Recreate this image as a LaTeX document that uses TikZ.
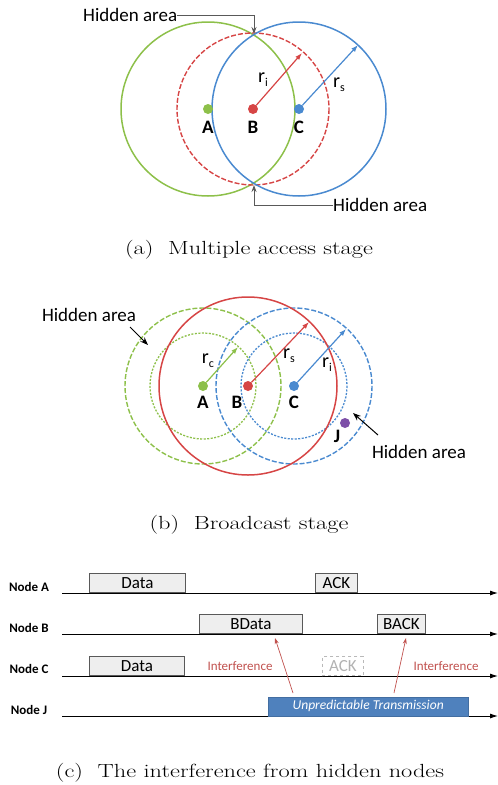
\documentclass[tikz,border=0pt]{standalone}
\usepackage{fontspec}
\usepackage{graphicx}
\newfontfamily\calib{Carlito}
\usetikzlibrary{arrows.meta, positioning}
\definecolor{netGreen}{HTML}{8DC04A}
\definecolor{netRed}{HTML}{D64545}
\definecolor{netBlue}{HTML}{4A8AD0}
\definecolor{netPurple}{HTML}{7D4FA8}
\definecolor{boxGray}{HTML}{EEEEEE}
\definecolor{edgeGray}{HTML}{595959}
\definecolor{jamBlue}{HTML}{4F81BD}
\definecolor{warnRed}{HTML}{C0504D}
\newcommand{\rlabel}[1]{r\raisebox{-0.4ex}{\fontsize{12}{12}\selectfont #1}}
\newcommand{\capt}[1]{\scalebox{1.28}[1]{#1}}

\begin{document}
\begin{tikzpicture}[x=1pt, y=-1pt,
  dot/.style={circle, inner sep=0pt, minimum size=10pt, fill=#1},
  tag/.style={font=\calib\bfseries\fontsize{19}{19}\selectfont, inner sep=0pt},
  rlab/.style={font=\calib\fontsize{20}{20}\selectfont, inner sep=0pt},
  note/.style={font=\calib\fontsize{19}{19}\selectfont, inner sep=0pt},
  ring/.style={line width=1.5pt, draw=#1},
  dashring/.style={line width=1.4pt, draw=#1, dash pattern=on 5pt off 2pt},
  dotring/.style={line width=1.3pt, draw=#1, dash pattern=on 2pt off 1.5pt},
  spoke/.style={line width=1.2pt, draw=#1, -{Latex[length=7pt,width=5pt]}},
  pointer/.style={line width=1pt, draw=edgeGray, -{Stealth[length=7pt,width=5pt]}},
  blackptr/.style={line width=1pt, -{Stealth[length=8pt,width=6pt]}},
  lane/.style={font=\calib\bfseries\fontsize{13}{13}\selectfont, inner sep=0pt},
  axis/.style={line width=0.9pt, -{Latex[length=8pt,width=5pt]}},
  slot/.style={draw=edgeGray, fill=boxGray, line width=0.9pt, minimum height=19pt,
    inner sep=0pt, anchor=south west, font=\calib\fontsize{17}{17}\selectfont},
  ghost/.style={draw=gray!55, dashed, line width=0.9pt, text=gray!60, minimum height=19pt,
    inner sep=0pt, anchor=south west, font=\calib\fontsize{17}{17}\selectfont},
  jam/.style={fill=jamBlue, draw=jamBlue!85!black, text=white, minimum height=19pt,
    inner sep=0pt, anchor=south west, font=\calib\itshape\fontsize{13.5}{13.5}\selectfont},
  warn/.style={text=warnRed, inner sep=0pt, font=\calib\fontsize{13}{13}\selectfont},
  hit/.style={draw=warnRed, line width=0.7pt, -{Stealth[length=6pt,width=4pt]}},
  subcap/.style={font=\fontsize{19}{19}\selectfont, inner sep=0pt}
]
\useasboundingbox (0,0) rectangle (498,785);

% (a) multiple access stage
\coordinate (A1) at (208,109);
\coordinate (B1) at (253,109);
\coordinate (C1) at (299,109);
\draw[ring=netGreen] (A1) circle[radius=87];
\draw[dashring=netRed] (B1) circle[radius=76];
\draw[ring=netBlue] (C1) circle[radius=87];
\node[dot=netGreen] (dA1) at (A1) {};
\node[dot=netRed]   (dB1) at (B1) {};
\node[dot=netBlue]  (dC1) at (C1) {};
\node[tag] (tA1) at (208,127) {A};
\node[tag] (tB1) at (253,127) {B};
\node[tag] (tC1) at (299,127) {C};
\coordinate (ri1) at (302,53);
\coordinate (rs1) at (358,45);
\draw[spoke=netRed] (dB1) -- (ri1);
\draw[spoke=netBlue] (dC1) -- (rs1);
\node[rlab] (lri1) at (263,80) {\rlabel{i}};
\node[rlab] (lrs1) at (339,85) {\rlabel{s}};
\coordinate (topX) at (254,34);
\coordinate (botX) at (254,185);
\node[note, anchor=west] (hidTop) at (83,15) {Hidden area};
\node[note, anchor=west] (hidBot) at (333,205) {Hidden area};
\draw[pointer] (hidTop.east) -| (topX);
\draw[pointer] (hidBot.west) -| (botX);
\node[subcap] (capA) at (249,250) {\capt{(a)\ \ Multiple access stage}};

% (b) broadcast stage
\coordinate (A2) at (203,386);
\coordinate (B2) at (248,386);
\coordinate (C2) at (294,386);
\draw[dashring=netGreen] (A2) circle[radius=78];
\draw[dotring=netGreen] (A2) circle[radius=53];
\draw[dashring=netBlue] (C2) circle[radius=78];
\draw[dotring=netBlue] (C2) circle[radius=53];
\draw[ring=netRed] (B2) circle[radius=89];
\node[dot=netGreen]  (dA2) at (A2) {};
\node[dot=netRed]    (dB2) at (B2) {};
\node[dot=netBlue]   (dC2) at (C2) {};
\node[dot=netPurple] (dJ2) at (345,423) {};
\node[tag] (tA2) at (203,402) {A};
\node[tag] (tB2) at (237,402) {B};
\node[tag] (tC2) at (294,402) {C};
\node[tag] (tJ2) at (337,436) {J};
\coordinate (rc2) at (238,347);
\coordinate (rs2) at (309,322);
\coordinate (ri2) at (346,329);
\draw[spoke=netGreen] (dA2) -- (rc2);
\draw[spoke=netRed] (dB2) -- (rs2);
\draw[spoke=netBlue] (dC2) -- (ri2);
\node[rlab] (lrc2) at (208,361) {\rlabel{c}};
\node[rlab] (lrs2) at (289,356) {\rlabel{s}};
\node[rlab] (lri2) at (327,365) {\rlabel{i}};
\node[note] (hidL) at (89,315) {Hidden area};
\node[note] (hidR) at (419,452) {Hidden area};
\coordinate (hlS) at (130,327);
\coordinate (hlX) at (148,345);
\coordinate (hrS) at (378,435);
\coordinate (hrX) at (353,413);
\draw[blackptr] (hlS) -- (hlX);
\draw[blackptr] (hrS) -- (hrX);
\node[subcap] (capB) at (249,525) {\capt{(b)\ \ Broadcast stage}};

% (c) timeline
\node[lane] (nA) at (29,587) {Node A};
\node[lane] (nB) at (29,628) {Node B};
\node[lane] (nC) at (29,669) {Node C};
\node[lane] (nJ) at (29,710) {Node J};
\coordinate (aS) at (62,593);  \coordinate (aE) at (498,593);
\coordinate (bS) at (62,634);  \coordinate (bE) at (498,634);
\coordinate (cS) at (62,676);  \coordinate (cE) at (498,676);
\coordinate (jS) at (62,716);  \coordinate (jE) at (498,716);
\draw[axis] (aS) -- (aE);
\draw[axis] (bS) -- (bE);
\draw[axis] (cS) -- (cE);
\draw[axis] (jS) -- (jE);
\node[slot, minimum width=96pt] (aData) at (89,593) {Data};
\node[slot, minimum width=42pt] (aAck) at (315,593) {ACK};
\node[slot, minimum width=103pt] (bData) at (199,634) {BData};
\node[slot, minimum width=48pt] (bAck) at (377,634) {BACK};
\node[slot, minimum width=95pt] (cData) at (89,676) {Data};
\node[ghost, minimum width=41pt] (cAck) at (322,676) {ACK};
\node[jam, minimum width=200pt] (jTx) at (268,716) {Unpredictable Transmission};
\node[warn] (warn1) at (240,666) {Interference};
\node[warn] (warn2) at (446,666) {Interference};
\coordinate (h1s) at (293,693);  \coordinate (h1e) at (275,638);
\coordinate (h2s) at (394,693);  \coordinate (h2e) at (406,638);
\draw[hit] (h1s) -- (h1e);
\draw[hit] (h2s) -- (h2e);
\node[subcap] (capC) at (250,773) {\capt{(c)\ \ The interference from hidden nodes}};
\end{tikzpicture}
\end{document}
